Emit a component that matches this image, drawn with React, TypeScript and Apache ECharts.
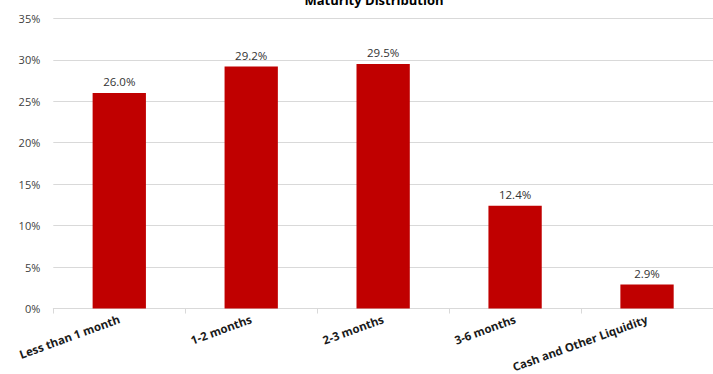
import React, { useEffect, useRef } from "react";
import * as echarts from "echarts";

const categories = ["Less than 1 month", "1-2 months", "2-3 months", "3-6 months", "Cash and Other Liquidity"];
const values = [26.0, 29.2, 29.5, 12.4, 2.9];
const titleText = "Maturity Distribution";

export default function App() {
  const ref = useRef<HTMLDivElement>(null);
  useEffect(() => {
    const chart = echarts.init(ref.current!, null, { renderer: "svg" });
    chart.setOption({
      animation: false,
      title: {
        text: titleText,
        left: 369,
        textAlign: "center",
        top: -12,
        textStyle: { fontFamily: "Open Sans", fontWeight: "bold", fontSize: 13, color: "#000" },
      },
      grid: { left: 53.3, top: 18.3, width: 666.7, height: 291.7 },
      xAxis: {
        type: "category",
        data: categories,
        axisLine: { lineStyle: { color: "#d9d9d9" } },
        axisTick: { show: true, length: 5, lineStyle: { color: "#d9d9d9" } },
        axisLabel: {
          rotate: 20,
          interval: 0,
          margin: 10,
          fontFamily: "Open Sans",
          fontWeight: "bold",
          fontSize: 11.5,
          color: "#1a1a1a",
        },
      },
      yAxis: {
        type: "value",
        min: 0,
        max: 35,
        interval: 5,
        axisLine: { show: false },
        axisTick: { show: false },
        splitLine: { lineStyle: { color: "#d9d9d9" } },
        axisLabel: {
          formatter: "{value}%",
          margin: 13,
          fontFamily: "Open Sans",
          fontSize: 11,
          color: "#404040",
        },
      },
      series: [
        {
          type: "bar",
          data: values,
          barWidth: 53.3,
          itemStyle: { color: "#C00000" },
          label: {
            show: true,
            position: "top",
            distance: 5,
            formatter: (p: any) => p.value.toFixed(1) + "%",
            fontFamily: "Open Sans",
            fontSize: 11.5,
            color: "#333333",
          },
        },
      ],
    });
    return () => chart.dispose();
  }, []);
  return <div ref={ref} style={{ width: 713, height: 374, position: "absolute", left: 0, top: 0 }} />;
}
